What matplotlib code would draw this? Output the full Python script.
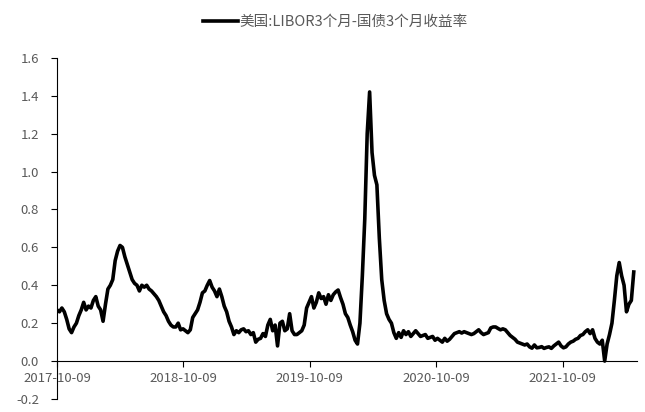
import matplotlib
matplotlib.use('Agg')
import matplotlib.pyplot as plt
import matplotlib.dates as mdates
import pandas as pd

plt.rcParams['font.family'] = ['Noto Sans CJK SC', 'DejaVu Sans']

# weekly spread values (%), starting 2017-10-09
spread = [
    0.27, 0.26, 0.28, 0.26, 0.22, 0.17, 0.15, 0.18, 0.20, 0.24,
    0.27, 0.31, 0.27, 0.29, 0.28, 0.32, 0.34, 0.29, 0.27, 0.21,
    0.30, 0.38, 0.40, 0.43, 0.53, 0.58, 0.61, 0.60, 0.55, 0.51,
    0.47, 0.43, 0.41, 0.40, 0.37, 0.40, 0.39, 0.40, 0.38, 0.37,
    0.355, 0.34, 0.32, 0.29, 0.26, 0.24, 0.21, 0.19, 0.18, 0.18,
    0.20, 0.165, 0.17, 0.16, 0.15, 0.165, 0.23, 0.25, 0.27, 0.31,
    0.36, 0.37, 0.40, 0.425, 0.39, 0.37, 0.34, 0.38, 0.34, 0.29,
    0.26, 0.21, 0.18, 0.14, 0.16, 0.15, 0.165, 0.17, 0.155, 0.16,
    0.14, 0.15, 0.10, 0.115, 0.12, 0.145, 0.13, 0.19, 0.22, 0.16,
    0.19, 0.08, 0.20, 0.21, 0.16, 0.17, 0.25, 0.16, 0.14, 0.14,
    0.15, 0.16, 0.19, 0.28, 0.31, 0.34, 0.28, 0.31, 0.36, 0.33,
    0.34, 0.30, 0.35, 0.32, 0.35, 0.365, 0.375, 0.335, 0.30, 0.25,
    0.23, 0.19, 0.155, 0.11, 0.09, 0.20, 0.45, 0.75, 1.20, 1.42,
    1.10, 0.98, 0.93, 0.65, 0.43, 0.32, 0.25, 0.22, 0.20, 0.15,
    0.12, 0.15, 0.125, 0.16, 0.14, 0.155, 0.13, 0.145, 0.16, 0.145,
    0.13, 0.135, 0.14, 0.12, 0.125, 0.13, 0.11, 0.12, 0.11, 0.10,
    0.12, 0.105, 0.115, 0.13, 0.145, 0.15, 0.155, 0.148, 0.155, 0.15,
    0.145, 0.14, 0.145, 0.155, 0.165, 0.15, 0.14, 0.145, 0.15, 0.175,
    0.18, 0.18, 0.172, 0.165, 0.17, 0.165, 0.15, 0.135, 0.125, 0.115,
    0.10, 0.095, 0.09, 0.085, 0.09, 0.075, 0.068, 0.085, 0.07, 0.072,
    0.076, 0.067, 0.072, 0.075, 0.067, 0.08, 0.09, 0.10, 0.08, 0.07,
    0.075, 0.09, 0.10, 0.105, 0.115, 0.12, 0.135, 0.14, 0.155, 0.165,
    0.145, 0.165, 0.12, 0.10, 0.09, 0.11, 0.0, 0.09, 0.14, 0.20,
    0.32, 0.45, 0.52, 0.45, 0.40, 0.26, 0.30, 0.32, 0.47,
]
dates = pd.date_range('2017-10-09', periods=len(spread), freq='7D')
tick_dates = pd.to_datetime(['2017-10-09', '2018-10-09', '2019-10-09',
                             '2020-10-09', '2021-10-09'])
label = '美国:LIBOR3个月-国债3个月收益率'

gray = '#595959'
fig = plt.figure(figsize=(6.45, 4.12), dpi=100)
ax = fig.add_axes([0.0884, 0.0316, 0.899, 0.828])
ax.plot(dates, spread, color='black', lw=2.6, label=label)

ax.set_ylim(-0.2, 1.6)
ax.set_yticks([-0.2, 0.0, 0.2, 0.4, 0.6, 0.8, 1.0, 1.2, 1.4, 1.6])
ax.yaxis.set_major_formatter(matplotlib.ticker.FormatStrFormatter('%.1f'))
ax.set_xlim(pd.Timestamp('2017-10-09'), pd.Timestamp('2017-10-09') + pd.Timedelta(days=1675))
ax.set_xticks(tick_dates)
ax.xaxis.set_major_formatter(mdates.DateFormatter('%Y-%m-%d'))

ax.spines['top'].set_visible(False)
ax.spines['right'].set_visible(False)
ax.spines['bottom'].set_position(('data', 0))
for s in ('left', 'bottom'):
    ax.spines[s].set_linewidth(0.8)
    ax.spines[s].set_color('black')
ax.tick_params(axis='both', direction='out', length=4, width=0.8,
               labelsize=9.5, labelcolor=gray)
ax.tick_params(axis='x', pad=4)
ax.tick_params(axis='y', pad=9)

fig.legend(loc='upper center', bbox_to_anchor=(0.52, 0.995), frameon=False,
           fontsize=10.5, handlelength=2.4, handletextpad=0.15,
           labelcolor=gray)

fig.savefig('out.png', dpi=100)
